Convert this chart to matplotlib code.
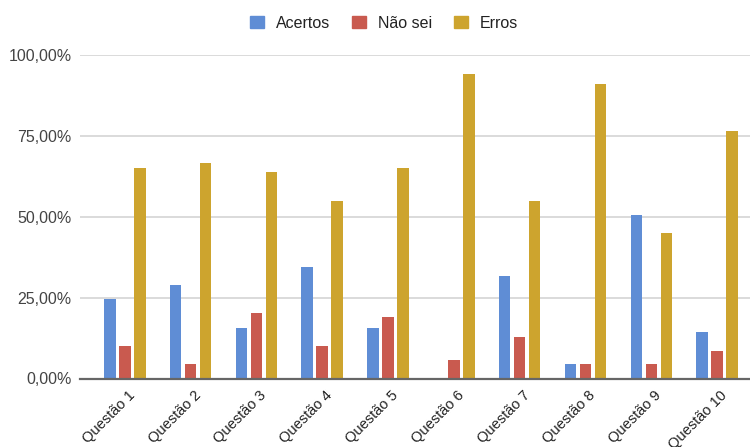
import numpy as np
import matplotlib
matplotlib.use("Agg")
import matplotlib.pyplot as plt
from matplotlib.ticker import FuncFormatter
from matplotlib.patches import Patch
from matplotlib.transforms import ScaledTranslation

# ===== DATA =====
questoes = [f"Questão {i}" for i in range(1, 11)]
acertos = [24.5, 28.8, 15.7, 34.5, 15.7, 0.0, 31.6, 4.5, 50.4, 14.5]
nao_sei = [10.1, 4.5, 20.2, 10.1, 19.0, 5.7, 12.9, 4.5, 4.5, 8.5]
erros = [64.9, 66.5, 63.7, 54.8, 64.9, 94.0, 54.8, 91.0, 44.9, 76.5]

series_names = ["Acertos", "Não sei", "Erros"]
colors = ["#5f8dd5", "#c95a4f", "#cda42e"]

plt.rcParams["font.family"] = ["Liberation Sans", "DejaVu Sans"]

fig = plt.figure(figsize=(7.5, 4.47), dpi=100)
ax = fig.add_axes([80 / 750, 68.5 / 447, 670 / 750, 323.8 / 447])

x = np.arange(len(questoes))
bar_w = 0.175
step = 0.228
for i, (vals, color) in enumerate(zip([acertos, nao_sei, erros], colors)):
    ax.bar(x + (i - 1) * step, np.array(vals) / 100, width=bar_w, color=color,
           zorder=3, linewidth=0)

ax.set_ylim(0, 1.0)
ax.set_xlim(-0.68, 9.5)
ax.set_yticks([0, 0.25, 0.5, 0.75, 1.0])
ax.yaxis.set_major_formatter(FuncFormatter(lambda v, _: f"{v * 100:.2f}%".replace(".", ",")))
ax.grid(axis="y", color="#d4d4d4", linewidth=1.2, zorder=0)
ax.tick_params(axis="y", length=0, pad=6, labelsize=11.5, labelcolor="#444444")

ax.set_xticks(x)
ax.set_xticklabels(questoes, rotation=45, ha="right", rotation_mode="anchor",
                   fontsize=10.5, color="#222222")
ax.tick_params(axis="x", length=0, pad=7)
# shift the rotated labels a little to the right of each group's centre
offset = ScaledTranslation(3 / 100, 0, fig.dpi_scale_trans)
for lbl in ax.get_xticklabels():
    lbl.set_transform(lbl.get_transform() + offset)

for side in ["left", "right", "top"]:
    ax.spines[side].set_visible(False)
ax.spines["bottom"].set_color("#666666")
ax.spines["bottom"].set_linewidth(1.6)
ax.spines["bottom"].set_zorder(4)

handles = [Patch(facecolor=c, edgecolor=c) for c in colors]
fig.legend(handles, series_names, loc="center", bbox_to_anchor=(0.512, 0.9485),
           ncol=3, frameon=False, fontsize=11.5, handlelength=0.85, handleheight=0.85,
           handletextpad=0.75, columnspacing=1.4, labelcolor="#222222")

fig.savefig("out.png", dpi=100)
